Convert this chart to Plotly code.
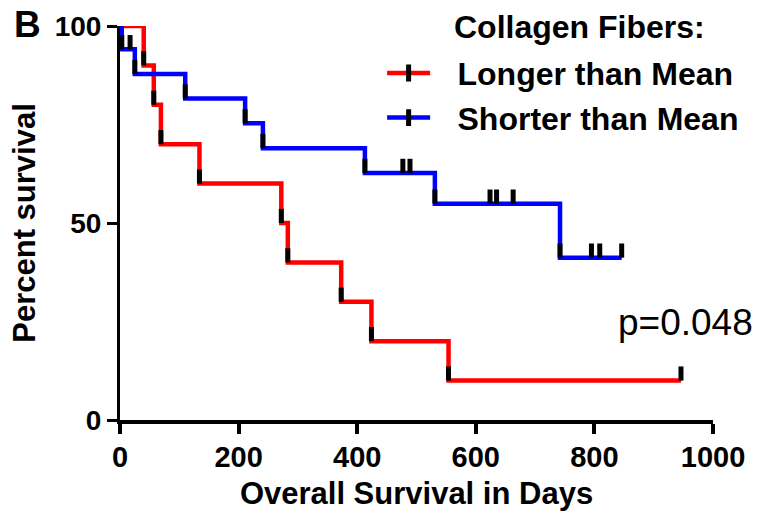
import plotly.graph_objects as go

# ---- data ----
red_days = [0, 40, 57, 69, 134, 272, 283, 373, 424, 554, 946]
red_surv = [100, 90, 80, 70, 60, 50, 40, 30, 20, 10, 10]
red_censor_days = [946]
red_censor_surv = [10]

blue_days = [0, 3, 25, 110, 211, 241, 413, 531, 742, 846]
blue_surv = [100, 94.1, 87.8, 81.6, 75.3, 69.0, 62.7, 54.9, 41.2, 41.2]
blue_censor_days = [17, 477, 489, 624, 635, 663, 795, 809, 846]
blue_censor_surv = [94.1, 62.7, 62.7, 54.9, 54.9, 54.9, 41.2, 41.2, 41.2]

x_tickvals = [0, 200, 400, 600, 800, 1000]
y_tickvals = [0, 50, 100]

series_names = ["Longer than Mean", "Shorter than Mean"]
legend_title = "Collagen Fibers:"
p_text = "p=0.048"
panel_label = "B"

# ---- styles ----
RED = "#FF0000"
BLUE = "#0000FF"
FONT = "Liberation Sans, Arial, sans-serif"
CURVE_W = 4.5
TICK_LEN = 3.6   # censor/event tick height (percent units)
TICK_W = 5
PAD = "\u2002\u2009"


def event_points(days, surv):
    xs, ys = [], []
    for i in range(1, len(days)):
        if surv[i] < surv[i - 1]:
            xs.append(days[i])
            ys.append(surv[i])
    return xs, ys


fig = go.Figure()

for days, surv, color in [(red_days, red_surv, RED), (blue_days, blue_surv, BLUE)]:
    fig.add_trace(go.Scatter(
        x=days, y=surv, mode="lines", line=dict(color=color, width=CURVE_W, shape="hv"),
        showlegend=False, cliponaxis=False, hoverinfo="skip"))

for days, surv, cd, cs in [(red_days, red_surv, red_censor_days, red_censor_surv),
                           (blue_days, blue_surv, blue_censor_days, blue_censor_surv)]:
    ex, ey = event_points(days, surv)
    tx = ex + cd
    ty = ey + cs
    fig.add_trace(go.Scatter(
        x=tx, y=ty, mode="markers",
        marker=dict(size=1, color="rgba(0,0,0,0)"),
        error_y=dict(type="data", symmetric=False, array=[TICK_LEN] * len(tx),
                     arrayminus=[0] * len(tx), width=0, thickness=TICK_W, color="black"),
        showlegend=False, cliponaxis=False, hoverinfo="skip"))

# legend entries
for name, color in zip(series_names, [RED, BLUE]):
    fig.add_trace(go.Scatter(
        x=[None], y=[None], mode="lines+markers", name=PAD + name,
        line=dict(color=color, width=CURVE_W),
        marker=dict(symbol="line-ns", size=12, color="black",
                    line=dict(color="black", width=5))))

fig.update_layout(
    template="none",
    width=760, height=516,
    margin=dict(l=120, r=47, t=26, b=96, autoexpand=False),
    paper_bgcolor="white", plot_bgcolor="white",
    font=dict(family=FONT, color="black"),
    showlegend=True,
    legend=dict(x=0.442, y=0.95, xanchor="left", yanchor="top",
                font=dict(size=32, family=FONT, weight="bold", color="black"),
                itemwidth=43, bgcolor="rgba(0,0,0,0)", borderwidth=0, tracegroupgap=0),
    xaxis=dict(range=[0, 1000], tickvals=x_tickvals, ticks="outside", ticklen=10,
               tickwidth=4, tickcolor="black", showline=True, linewidth=4, linecolor="black",
               showgrid=False, zeroline=False, automargin=False, ticklabelstandoff=-2,
               tickfont=dict(size=29, family=FONT, weight="bold", color="black"),
               title=dict(text="Overall Survival in Days",
                          font=dict(size=31, family=FONT, weight="bold", color="black"),
                          standoff=12)),
    yaxis=dict(range=[0, 100], tickvals=y_tickvals, ticks="outside", ticklen=10,
               tickwidth=3, tickcolor="black", showline=True, linewidth=3, linecolor="black",
               showgrid=False, zeroline=False, automargin=False,
               tickfont=dict(size=28, family=FONT, weight="bold", color="black"),
               title=dict(text="Percent survival",
                          font=dict(size=31, family=FONT, weight="bold", color="black"),
                          standoff=10)),
    annotations=[
        dict(text=legend_title, xref="paper", yref="paper", x=0.56, y=0.998,
             xanchor="left", yanchor="middle", showarrow=False,
             font=dict(size=32, family=FONT, weight="bold", color="black")),
        dict(text=panel_label, xref="paper", yref="paper", x=-0.182, y=1.003,
             xanchor="left", yanchor="middle", showarrow=False,
             font=dict(size=37, family=FONT, weight="bold", color="black")),
        dict(text=p_text, xref="paper", yref="paper", x=0.836, y=0.247,
             xanchor="left", yanchor="middle", showarrow=False,
             font=dict(size=37, family=FONT, color="black")),
    ],
)

fig.write_html("out.html")
